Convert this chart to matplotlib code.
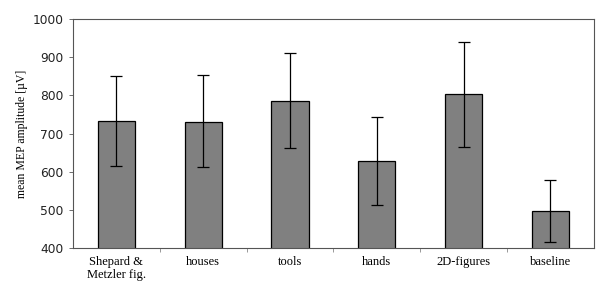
import matplotlib.pyplot as plt
import numpy as np

categories = ['Shepard &\nMetzler fig.', 'houses', 'tools', 'hands', '2D-figures', 'baseline']
means = [733, 730, 786, 628, 803, 497]
err_upper = [851, 853, 910, 744, 941, 578]
err_lower = [616, 613, 661, 512, 665, 415]

x = np.arange(len(categories))
yerr = [np.array(means) - np.array(err_lower), np.array(err_upper) - np.array(means)]

fig = plt.figure(figsize=(6, 2.97), dpi=100)
ax = fig.add_axes([0.1217, 0.165, 0.868, 0.771])

ax.bar(x, means, width=0.43, color='#808080', edgecolor='black', linewidth=0.9, zorder=2)
ax.errorbar(x, means, yerr=yerr, fmt='none', ecolor='black', elinewidth=0.9,
            capsize=4, capthick=0.9, zorder=3)

ax.set_xlim(-0.5, len(categories) - 0.5)
ax.set_ylim(400, 1000)
ax.set_yticks(range(400, 1001, 100))
ax.tick_params(axis='y', labelsize=8.8, labelcolor='#222222', direction='out',
               length=3, width=0.6, color='#555555', pad=4)
for lbl in ax.get_yticklabels():
    lbl.set_family('DejaVu Sans')

# category labels, with ticks drawn between categories
ax.set_xticks(x)
ax.set_xticklabels(categories, family='Liberation Serif', fontsize=9, linespacing=1.1)
ax.tick_params(axis='x', which='major', length=0, pad=6)
ax.set_xticks(np.arange(0.5, len(categories) - 0.5), minor=True)
ax.tick_params(axis='x', which='minor', direction='out', length=3, width=0.6, color='#888888')

ax.set_ylabel('mean MEP amplitude [\u00b5V]', family='Liberation Serif', fontsize=8.5, labelpad=3)

for side in ['top', 'right', 'left', 'bottom']:
    ax.spines[side].set_color('#555555')
    ax.spines[side].set_linewidth(0.8)

fig.savefig('out.png', dpi=100)
